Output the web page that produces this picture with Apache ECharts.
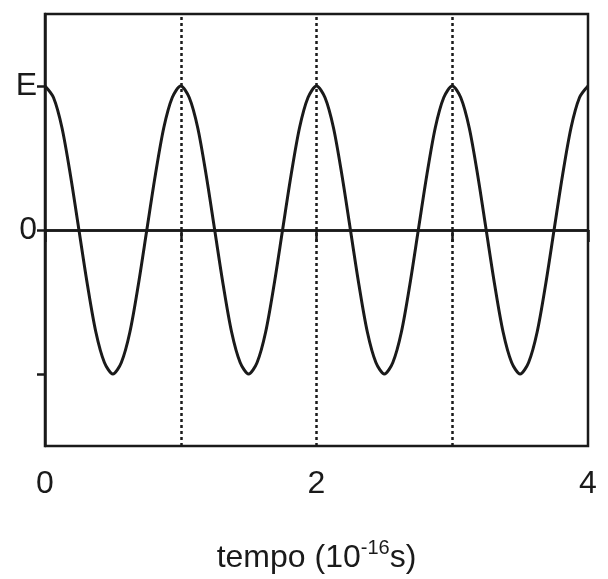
<!DOCTYPE html>
<html><head><meta charset="utf-8">
<script src="https://cdn.jsdelivr.net/npm/echarts@6/dist/echarts.min.js"></script>
<style>html,body{margin:0;background:#fff}#c{width:608px;height:579px}</style>
</head><body><div id="c"></div>
<script>
const xStep = 0.0625;
const ys = [1,0.92,0.71,0.38,0,-0.38,-0.71,-0.92,-1,-0.92,-0.71,-0.38,0,0.38,0.71,0.92,
            1,0.92,0.71,0.38,0,-0.38,-0.71,-0.92,-1,-0.92,-0.71,-0.38,0,0.38,0.71,0.92,
            1,0.92,0.71,0.38,0,-0.38,-0.71,-0.92,-1,-0.92,-0.71,-0.38,0,0.38,0.71,0.92,
            1,0.92,0.71,0.38,0,-0.38,-0.71,-0.92,-1,-0.92,-0.71,-0.38,0,0.38,0.71,0.92,1];
const xLabels = [0,2,4];
const dottedX = [1,2,3];
const yTickVals = [-1,0,1];
const yTickText = {'1':'E','0':'0','-1':''};
const c = echarts.init(document.getElementById('c'));
const F = 'Liberation Sans, Arial, sans-serif';
c.setOption({
  animation:false,
  grid:{left:45,right:20,top:14,bottom:132,show:true,borderColor:'#1a1a1a',borderWidth:2.5},
  xAxis:{type:'value',min:0,max:4,interval:1,
    axisLine:{lineStyle:{color:'#1a1a1a',width:2.5}},
    axisTick:{show:true,inside:false,length:12,lineStyle:{color:'#1a1a1a',width:2.5}},
    splitLine:{show:false},
    axisLabel:{customValues:xLabels,color:'#1a1a1a',fontSize:32,fontFamily:F,margin:22},
    name:'{a|tempo (10}{s|-16}{a|s)}',nameLocation:'middle',nameGap:92,
    nameTextStyle:{rich:{a:{fontSize:32,fontFamily:F,color:'#1a1a1a'},s:{fontSize:20,fontFamily:F,color:'#1a1a1a',verticalAlign:'top',padding:[0,0,20,0]}}}},
  yAxis:{type:'value',min:-1.5,max:1.5,interval:0.5,
    axisLine:{show:true,lineStyle:{color:'#1a1a1a',width:2.5}},
    axisTick:{show:true,customValues:yTickVals,length:8,lineStyle:{color:'#1a1a1a',width:2.5}},
    splitLine:{show:false},
    axisLabel:{customValues:yTickVals,formatter:v=>yTickText[String(v)],color:'#1a1a1a',fontSize:32,fontFamily:F,margin:8}},
  series:[{type:'line',data:ys.map((y,i)=>[i*xStep,y]),smooth:0.3,showSymbol:false,
    lineStyle:{color:'#1a1a1a',width:3},
    markLine:{silent:true,symbol:'none',label:{show:false},
      data:[...dottedX.map(x=>({xAxis:x,lineStyle:{type:[3,3],color:'#1a1a1a',width:2.5}})),
            {yAxis:0,lineStyle:{type:'solid',color:'#1a1a1a',width:2.5}}]}}]
});
</script></body></html>
